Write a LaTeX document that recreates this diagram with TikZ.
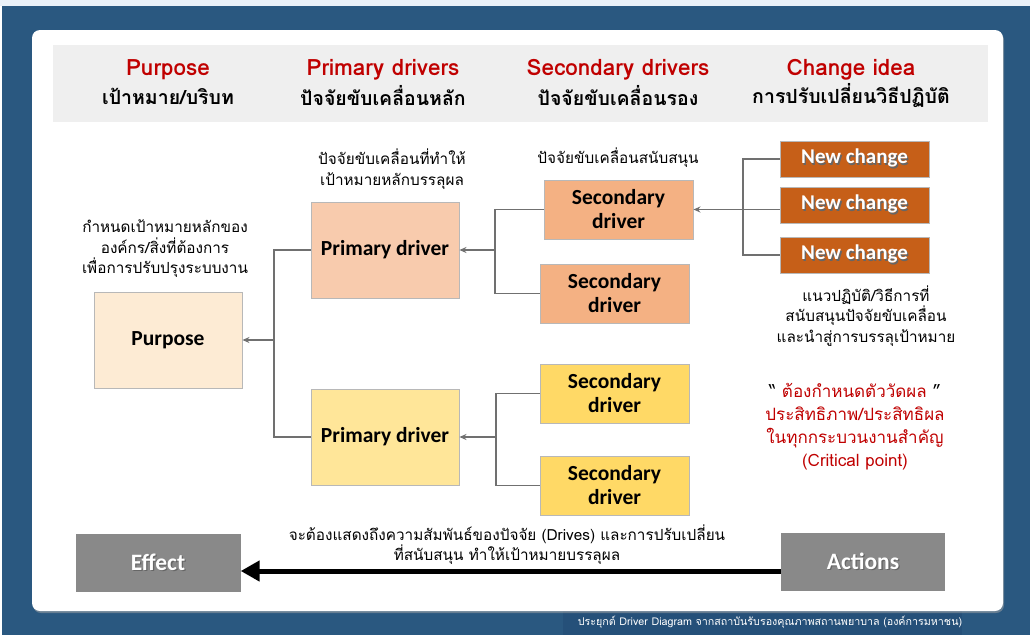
\documentclass[tikz,border=0pt]{standalone}
\usepackage{fontspec}
\usetikzlibrary{arrows.meta}
\setmainfont{Carlito}
\newfontfamily\thai[Script=Thai]{Loma}
\definecolor{bgblue}{HTML}{2A5880}
\definecolor{footblue}{HTML}{255079}
\definecolor{topstrip}{HTML}{EAF1F8}
\definecolor{headgray}{HTML}{EFEFEF}
\definecolor{hred}{HTML}{C00000}
\definecolor{purposefill}{HTML}{FDEBD4}
\definecolor{prim1fill}{HTML}{F8CBAD}
\definecolor{prim2fill}{HTML}{FFE699}
\definecolor{sec1fill}{HTML}{F4B183}
\definecolor{sec2fill}{HTML}{FFD966}
\definecolor{ncfill}{HTML}{C65F18}
\definecolor{grayfill}{HTML}{898989}
\definecolor{boxline}{HTML}{B8B8B8}
\definecolor{connline}{HTML}{707070}
\newcommand\shadowtxt[1]{\rlap{\hspace{1.3pt}\raisebox{-1.3pt}{\textcolor{black!60}{#1}}}#1}
\tikzset{
  box/.style={draw=boxline, line width=0.9pt, align=center, inner sep=0pt,
    font={\fontsize{21.5}{24}\selectfont\bfseries}},
  bigbox/.style={box, minimum width=148pt, minimum height=96pt},
  secbox/.style={box, minimum width=149pt, minimum height=59pt},
  ncbox/.style={box, fill=ncfill, text=white, minimum width=149pt, minimum height=36pt,
    font={\fontsize{21}{22}\selectfont\bfseries}},
  graybox/.style={draw=none, fill=grayfill, text=white, align=center, inner sep=0pt,
    minimum width=165pt, minimum height=58pt, font={\fontsize{23.5}{25}\selectfont\bfseries}},
  hlat/.style={text=hred, font={\thai\fontsize{22.5}{24}\selectfont\bfseries}, inner sep=0pt},
  hthai/.style={text=black, font={\thai\fontsize{19.5}{22}\selectfont\bfseries}, inner sep=0pt},
  lbl/.style={align=center, inner sep=0pt, font={\thai\fontsize{15.3}{20.5}\selectfont}},
  conn/.style={draw=connline, line width=1.2pt},
  arr/.style={conn, -{Stealth[length=7pt,width=6pt]}},
}
\begin{document}
\begin{tikzpicture}[x=1pt,y=-1pt]
\useasboundingbox (0,0) rectangle (1030,635);
% background
\fill[topstrip] (0,0) rectangle (1030,6);
\fill[bgblue] (2,6) rectangle (1030,635);
\fill[footblue] (563,611) rectangle (962,635);
\fill[black!35, opacity=0.5, rounded corners=8pt] (33,32) rectangle (1004,613);
\fill[white, rounded corners=8pt] (32,30) rectangle (1003,611);
\fill[headgray] (53,45) rectangle (988,122);
% header
\node[hlat] (h1a) at (168,70) {Purpose};
\node[hthai] (h1b) at (168,96) {เป้าหมาย/บริบท};
\node[hlat] (h2a) at (383,70) {Primary drivers};
\node[hthai] (h2b) at (383,96) {ปัจจัยขับเคลื่อนหลัก};
\node[hlat] (h3a) at (618,70) {Secondary drivers};
\node[hthai] (h3b) at (618,96) {ปัจจัยขับเคลื่อนรอง};
\node[hlat] (h4a) at (851,70) {Change idea};
\node[hthai] (h4b) at (851,96) {การปรับเปลี่ยนวิธีปฏิบัติ};
% boxes
\node[bigbox, fill=purposefill] (pu) at (168,340) {Purpose};
\node[bigbox, fill=prim1fill] (p1) at (385,250) {Primary driver};
\node[bigbox, fill=prim2fill] (p2) at (385,437) {Primary driver};
\node[secbox, fill=sec1fill] (s1) at (618.5,209.5) {Secondary\\driver};
\node[secbox, fill=sec1fill] (s2) at (614.5,293.5) {Secondary\\driver};
\node[secbox, fill=sec2fill] (s3) at (614.5,393.5) {Secondary\\driver};
\node[secbox, fill=sec2fill] (s4) at (614.5,485.5) {Secondary\\driver};
\node[ncbox] (n1) at (854.5,159) {\shadowtxt{New change}};
\node[ncbox] (n2) at (854.5,205) {\shadowtxt{New change}};
\node[ncbox] (n3) at (854.5,255) {\shadowtxt{New change}};
\node[graybox] (ef) at (158,563) {\shadowtxt{Effect}};
\node[graybox, minimum width=164pt] (ac) at (863,562) {\shadowtxt{Actions}};
% connectors
\coordinate (b1) at (274,340);
\draw[conn] (p1.west) -| (b1);
\draw[conn] (p2.west) -| (b1);
\draw[arr] (b1) -- (pu.east);
\coordinate (b2) at (495,250);
\draw[conn] (s1.west) -| (b2);
\draw[conn] (s2.west) -| (b2);
\draw[arr] (b2) -- (p1.east);
\coordinate (b3) at (496,437);
\draw[conn] (s3.west) -| (b3);
\draw[conn] (s4.west) -| (b3);
\draw[arr] (b3) -- (p2.east);
\coordinate (b4) at (743,209.5);
\draw[conn] (n1.west) -| (b4);
\draw[conn] (n3.west) -| (b4);
\draw[arr] (n2.west |- s1.east) -- (s1.east);
\draw[line width=5pt, -{Triangle[length=19pt,width=20pt]}] ([yshift=-9pt]ac.west) -- ([yshift=-8pt]ef.east);
% labels
\node[lbl] (l1) at (392,169) {ปัจจัยขับเคลื่อนที่ทำให้\\เป้าหมายหลักบรรลุผล};
\node[lbl] (l2) at (165,249) {กำหนดเป้าหมายหลักของ\\องค์กร/สิ่งที่ต้องการ\\เพื่อการปรับปรุงระบบงาน};
\node[lbl] (l3) at (618,158) {ปัจจัยขับเคลื่อนสนับสนุน};
\node[lbl] (l4) at (866,316) {แนวปฏิบัติ/วิธีการที่\\สนับสนุนปัจจัยขับเคลื่อน\\และนำสู่การบรรลุเป้าหมาย};
\node[lbl, text=hred, font={\thai\fontsize{17}{23}\selectfont}] (l5) at (855,427)
  {\textcolor{black}{“} ต้องกำหนดตัววัดผล \textcolor{black}{”}\\ประสิทธิภาพ/ประสิทธิผล\\ในทุกกระบวนงานสำคัญ\\(Critical point)};
\node[lbl, font={\thai\fontsize{15.3}{18}\selectfont}] (l6) at (507,545)
  {จะต้องแสดงถึงความสัมพันธ์ของปัจจัย (Drives) และการปรับเปลี่ยน\\ที่สนับสนุน ทำให้เป้าหมายบรรลุผล};
\node[lbl, text=white, font={\thai\fontsize{10.7}{13}\selectfont}] (l7) at (770,622)
  {ประยุกต์ Driver Diagram จากสถาบันรับรองคุณภาพสถานพยาบาล (องค์การมหาชน)};
\end{tikzpicture}
\end{document}
